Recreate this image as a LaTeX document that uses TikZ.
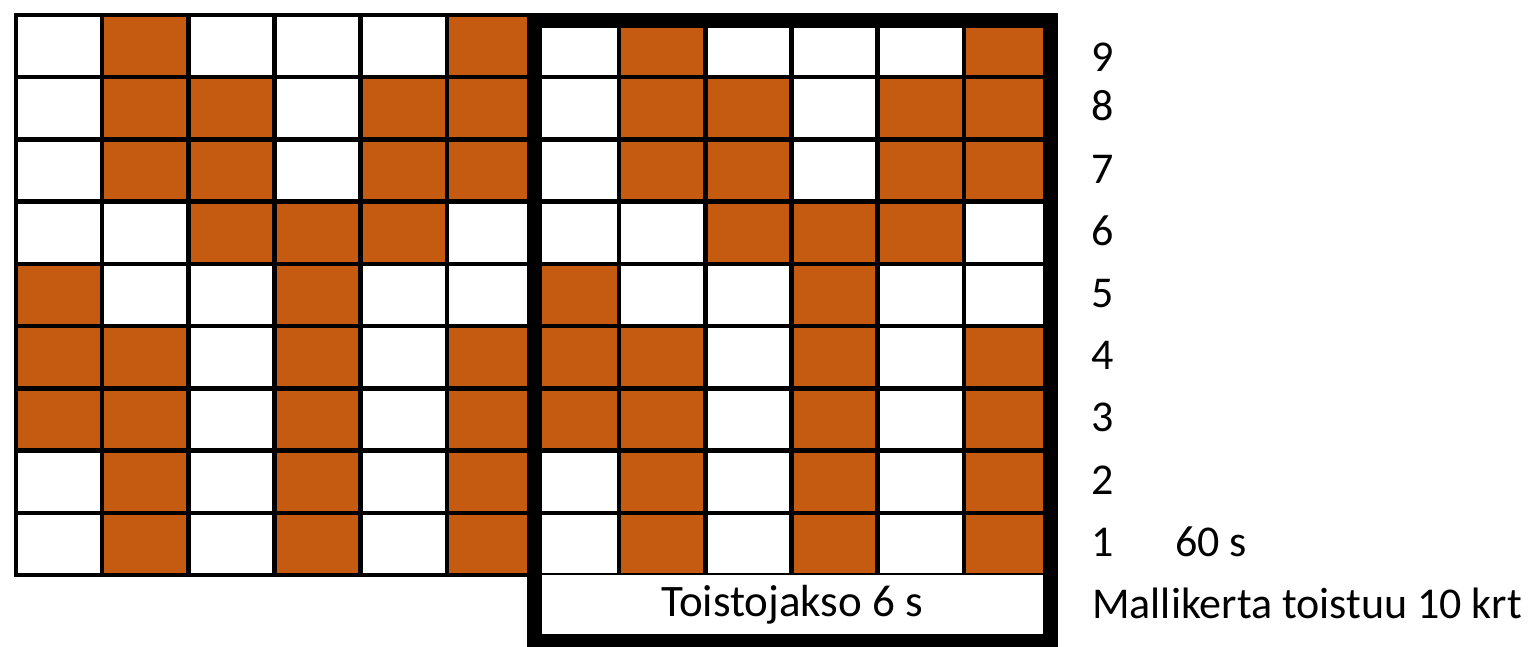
\documentclass[tikz,border=0pt]{standalone}
\usepackage{fontspec}
\setmainfont{Carlito}
\definecolor{orng}{HTML}{C55A11}
\begin{document}
\begin{tikzpicture}[x=1pt,y=-1pt,
  gridline/.style={draw=black,line width=4.5pt,line cap=rect},
  frame/.style={draw=black,line width=15pt},
  lab/.style={anchor=base west,font=\fontsize{44}{44}\selectfont,inner sep=0pt},
  midlab/.style={anchor=base,font=\fontsize{45}{45}\selectfont,inner sep=0pt}]
\useasboundingbox (0,0) rectangle (1528,647);
\fill[white] (0,0) rectangle (1528,647);
\def\cw{86.17}
\def\rh{62.22}
% orange cells (row index from top, column 1..6), repeated in both blocks
\foreach \b in {0,6}{
  \foreach \r/\c in {0/2,0/6,1/2,1/3,1/5,1/6,2/2,2/3,2/5,2/6,3/3,3/4,3/5,4/1,4/4,5/1,5/2,5/4,5/6,6/1,6/2,6/4,6/6,7/2,7/4,7/6,8/2,8/4,8/6}{
    \fill[orng] ({16+(\b+\c-1)*\cw},{15+\r*\rh}) rectangle ({16+(\b+\c)*\cw},{15+(\r+1)*\rh});
  }
}
% grid lines
\foreach \k in {0,...,12}{
  \draw[gridline] ({16+\k*\cw},15) -- ({16+\k*\cw},575);
}
\foreach \j in {0,...,9}{
  \draw[gridline] (16,{15+\j*\rh}) -- (1050,{15+\j*\rh});
}
% repeat frame with bottom box
\fill[white] (534,575) rectangle (1050,641);
\draw[frame] (534,20.5) rectangle (1050.5,641);
\node[midlab] (toisto) at (792,616) {Toistojakso 6 s};
% row labels
\node[lab] (l9) at (1091,72) {9};
\foreach \n/\r in {8/1,7/2,6/3,5/4,4/5,3/6,2/7,1/8}{
  \node[lab] (l\n) at (1091,{15+(\r+0.5)*\rh+12.5}) {\n};
}
\node[lab] (sixty) at (1175,556) {60 s};
\node[lab] (malli) at (1092,618) {Mallikerta toistuu 10 krt};
\end{tikzpicture}
\end{document}
